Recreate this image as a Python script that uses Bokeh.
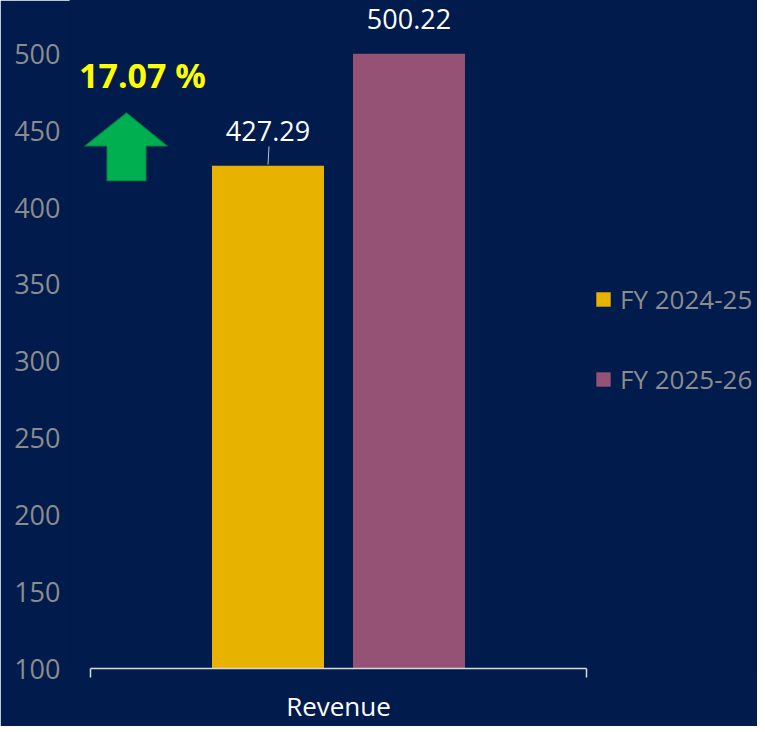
from bokeh.plotting import figure
from bokeh.models import (Range1d, FixedTicker, Legend, LegendItem, LabelSet, Label,
                          ColumnDataSource, PolyAnnotation)
from bokeh.core.properties import value
from bokeh.embed import file_html
from bokeh.resources import INLINE

# ---- data ----
category = ["Revenue"]
series = ["FY 2024-25", "FY 2025-26"]
values = [427.29, 500.22]
colors = ["#E8B200", "#965274"]
y_ticks = [100, 150, 200, 250, 300, 350, 400, 450, 500]

BG = "#001B4C"
GREY = "#8C8C8C"
FONT = "Open Sans"

PPU = 496.0                      # pixels per x unit (category spans 0..1)
LEFT, WIDTH, HEIGHT, FH = 70, 757, 724, 668
p = figure(frame_width=WIDTH - LEFT, frame_height=FH, output_backend="svg", toolbar_location=None,
           x_range=Range1d(-20 / PPU, (WIDTH - LEFT - 20) / PPU), y_range=Range1d(100, 534.8),
           min_border_left=LEFT, min_border_right=0, min_border_top=0,
           min_border_bottom=HEIGHT - FH)
p.background_fill_color = BG
p.border_fill_color = BG
p.outline_line_color = BG
p.outline_line_width = 2
p.xgrid.grid_line_color = None
p.ygrid.grid_line_color = None

# bars
dx = 141 / PPU
bw = 112 / PPU
xs = [0.5 + (i - (len(series) - 1) / 2) * dx for i in range(len(series))]
items = []
for i, s in enumerate(series):
    r = p.vbar(x=[xs[i]], top=[values[i]], bottom=100, width=bw,
               fill_color=colors[i], line_color=None)
    items.append(LegendItem(label=s, renderers=[r]))

# data labels
src = ColumnDataSource(dict(x=xs, y=values, t=[f"{v:.2f}" for v in values]))
p.add_layout(LabelSet(x="x", y="y", text="t", source=src, y_offset=35,
                      text_align="center", text_baseline="middle",
                      text_color="white", text_font=value(FONT), text_font_size="27px"))
# leader line for first label
p.segment(x0=[xs[0]], y0=[values[0] + 0.7], x1=[xs[0] + 0.002], y1=[values[0] + 12.5],
          line_color="#BFBFBF", line_width=1)

# growth annotation
growth = (values[1] - values[0]) / values[0] * 100
p.add_layout(Label(x=0.1048, y=486.1, text=f"{growth:.2f} %", text_align="center",
                   text_baseline="middle", text_color="#FFFF00", text_font=FONT,
                   text_font_style="bold", text_font_size="34px"))
ax, ay = 0.0726, 439.8  # arrow anchor (head base centre)
p.add_layout(PolyAnnotation(
    xs=[ax, ax + 0.0847, ax + 0.0403, ax + 0.0403, ax - 0.0403, ax - 0.0403, ax - 0.0867],
    ys=[ay + 22.2, ay, ay, ay - 22.7, ay - 22.7, ay, ay],
    fill_color="#00B050", fill_alpha=1.0, line_color="#0B1A3A", line_width=2))

# y axis
yax = p.yaxis[0]
yax.ticker = FixedTicker(ticks=y_ticks)
yax.axis_line_color = None
yax.major_tick_line_color = None
yax.minor_tick_line_color = None
yax.major_tick_out = 0
yax.major_tick_in = 0
yax.major_label_standoff = 10
yax.major_label_text_color = GREY
yax.major_label_text_font = FONT
yax.major_label_text_font_size = "27px"

# x axis
xax = p.xaxis[0]
xax.bounds = (0, 1)
xax.ticker = FixedTicker(ticks=[0.5], minor_ticks=[0, 1])
xax.major_label_overrides = {0.5: category[0]}
xax.axis_line_color = "#D9D9D9"
xax.axis_line_width = 1.5
xax.major_tick_line_color = None
xax.major_tick_out = 0
xax.major_tick_in = 0
xax.minor_tick_line_color = "#D9D9D9"
xax.minor_tick_line_width = 1.5
xax.minor_tick_out = 9
xax.minor_tick_in = 0
xax.major_label_standoff = 10
xax.major_label_text_color = "white"
xax.major_label_text_font = FONT
xax.major_label_text_font_size = "26px"

legend = Legend(items=items, location=(594 - LEFT, FH - 399), orientation="vertical",
                glyph_width=18, glyph_height=18, label_standoff=8, label_height=40,
                spacing=40, margin=0, padding=0,
                background_fill_alpha=0, border_line_color=None,
                label_text_color=GREY, label_text_font=FONT, label_text_font_size="26px")
p.add_layout(legend)

open("out.html", "w").write(file_html(p, INLINE))
